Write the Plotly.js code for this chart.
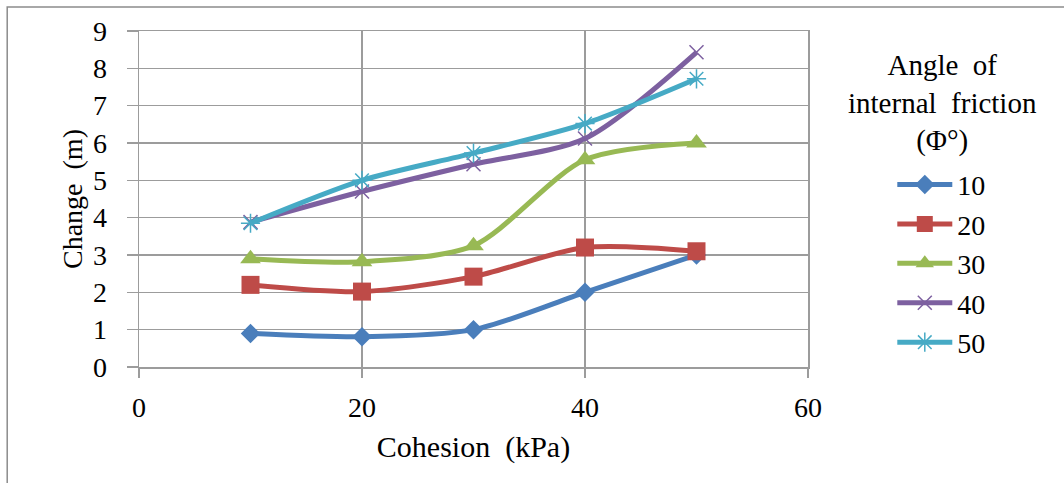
<!DOCTYPE html>
<html>
<head>
<meta charset="utf-8">
<script src="https://cdn.plot.ly/plotly-3.0.1.min.js"></script>
<style>
html,body{margin:0;padding:0;background:#fff;}
#chart{width:1064px;height:483px;}
</style>
</head>
<body>
<div id="chart"></div>
<script>
// Cohesion (kPa)
var cohesion = [10, 20, 30, 40, 50];
// Change (m) for each angle of internal friction
var phi10 = [0.9, 0.81, 1.0, 2.0, 3.0];
var phi20 = [2.2, 2.02, 2.42, 3.2, 3.1];
var phi30 = [2.9, 2.82, 3.25, 5.55, 6.0];
var phi40 = [3.88, 4.7, 5.43, 6.12, 8.43];
var phi50 = [3.85, 5.0, 5.73, 6.52, 7.72];
var seriesNames = ['10', '20', '30', '40', '50'];
var xTicks = [0, 20, 40, 60];
var yTicks = [0, 1, 2, 3, 4, 5, 6, 7, 8, 9];

var FONT = 'Liberation Serif';
var colors = ['#4A7EBB', '#BE4B48', '#98B954', '#7D60A0', '#46AAC5'];
var symbols = ['diamond', 'square', 'triangle-up', 'x-thin-open', 'asterisk-open'];
var sizes = [15, 18, 18, 14, 16];
var values = [phi10, phi20, phi30, phi40, phi50];

var traces = values.map(function (v, i) {
  var open = i >= 3;
  return {
    x: cohesion,
    y: v,
    name: seriesNames[i],
    type: 'scatter',
    mode: 'lines+markers',
    line: {color: colors[i], width: 5, shape: 'spline', smoothing: 0.8},
    marker: {
      symbol: symbols[i],
      size: sizes[i],
      color: colors[i],
      line: {color: colors[i], width: open ? 1.5 : 0}
    }
  };
});

var gridColor = '#9c9c9c';

var layout = {
  width: 1064,
  height: 483,
  margin: {l: 139, r: 256, t: 31, b: 116, pad: 0},
  paper_bgcolor: '#ffffff',
  plot_bgcolor: '#ffffff',
  font: {family: FONT, size: 28, color: '#000'},
  showlegend: true,
  legend: {
    x: 1.126, xanchor: 'left',
    y: 0.6165, yanchor: 'top',
    font: {family: FONT, size: 28, color: '#000'},
    itemwidth: 55,
    tracegroupgap: 0,
    bgcolor: 'rgba(0,0,0,0)'
  },
  xaxis: {
    range: [0, 60],
    tickvals: xTicks,
    ticktext: xTicks.map(String),
    showgrid: true,
    gridcolor: gridColor,
    gridwidth: 1.5,
    zeroline: false,
    showline: true,
    linecolor: gridColor,
    linewidth: 1.5,
    mirror: true,
    ticks: 'outside',
    ticklen: 9,
    tickwidth: 1.5,
    tickcolor: gridColor,
    ticklabelstandoff: 6,
    tickfont: {family: FONT, size: 28, color: '#000'},
    title: {text: 'Cohesion\u00a0\u00a0(kPa)', font: {family: FONT, size: 30, color: '#000'}, standoff: 14},
    automargin: false,
    fixedrange: true
  },
  yaxis: {
    range: [0, 9],
    tickvals: yTicks,
    ticktext: yTicks.map(String),
    showgrid: true,
    gridcolor: gridColor,
    gridwidth: 1.5,
    zeroline: false,
    showline: true,
    linecolor: gridColor,
    linewidth: 1.5,
    mirror: true,
    ticks: 'outside',
    ticklen: 11,
    tickwidth: 1.5,
    tickcolor: gridColor,
    ticklabelstandoff: 14,
    tickfont: {family: FONT, size: 28, color: '#000'},
    title: {text: 'Change\u00a0\u00a0(m)', font: {family: FONT, size: 28, color: '#000'}, standoff: 2},
    automargin: false,
    fixedrange: true
  },
  annotations: [{
    xref: 'paper', yref: 'paper',
    x: 1.2003, y: 0.953,
    xanchor: 'center', yanchor: 'top',
    align: 'center',
    showarrow: false,
    text: 'Angle\u00a0\u00a0of<br>internal\u00a0\u00a0friction<br>(\u03a6\u00b0)',
    font: {family: FONT, size: 29, color: '#000'}
  }],
  shapes: [{
    type: 'rect', xref: 'paper', yref: 'paper',
    x0: -0.197, x1: 1.40, y0: -0.40, y1: 1.0714,
    line: {color: '#8c8c8c', width: 1.5},
    fillcolor: 'rgba(0,0,0,0)',
    layer: 'below'
  }]
};

Plotly.newPlot('chart', traces, layout, {displayModeBar: false, staticPlot: true});
</script>
</body>
</html>
